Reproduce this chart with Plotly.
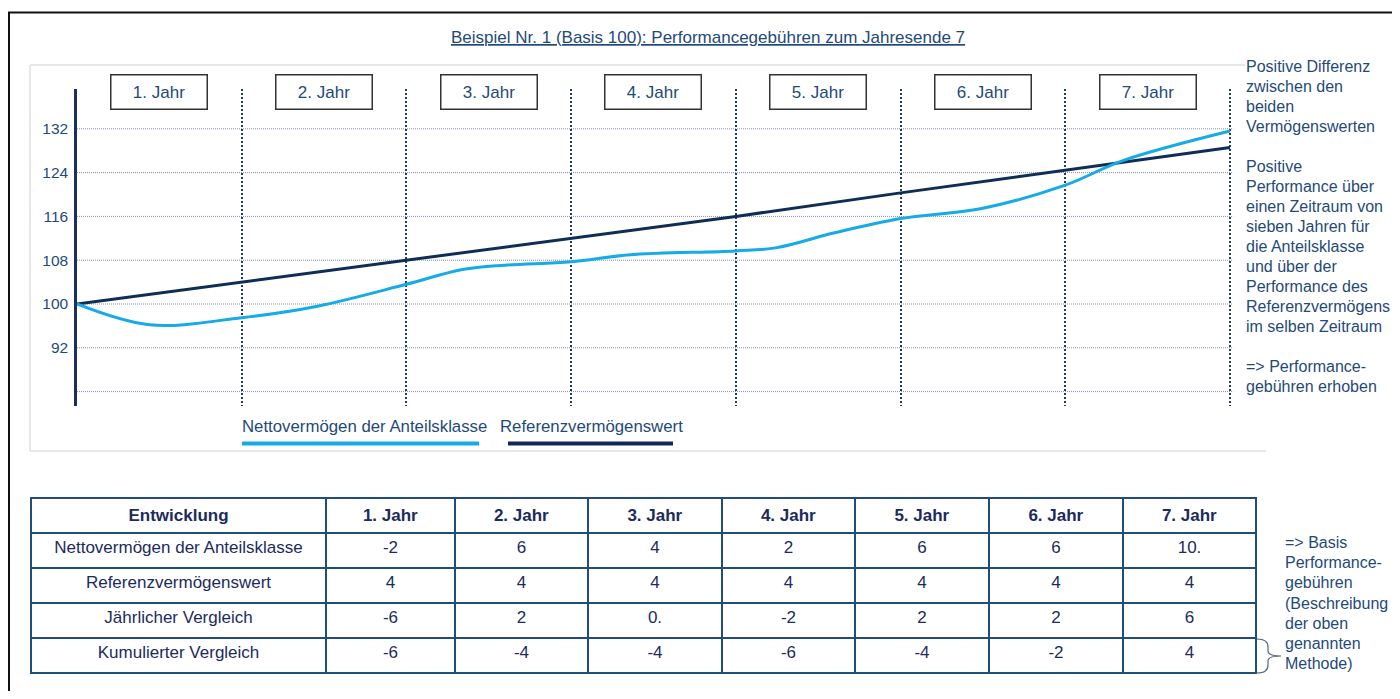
import plotly.graph_objects as go

# The page body has an 8px margin, so the figure starts at page pixel (8, 8)
OFF = 8
W, H = 1400 - OFF, 699 - 2 * OFF
FONT = "Liberation Sans, Arial, sans-serif"
TXT = "#1f4a78"
NAVY_TXT = "#1c2b5c"
FS = 17
FS_SIDE = 16.0

# ---------------- data ----------------
title = "Beispiel Nr. 1 (Basis 100): Performancegebühren zum Jahresende 7"
year_labels = ["1. Jahr", "2. Jahr", "3. Jahr", "4. Jahr", "5. Jahr", "6. Jahr", "7. Jahr"]
y_ticks = [92, 100, 108, 116, 124, 132]
grid_vals = [84, 92, 100, 108, 116, 124, 132]

ref_years = [0, 1, 2, 3, 4, 5, 6, 7]
ref_values = [100, 104, 108, 112, 116, 120.3, 124.4, 128.6]

net_years = [0, 0.44, 1.0, 1.46, 2.0, 2.34, 2.6, 3.0, 3.36, 4.0, 4.25, 4.6,
             5.0, 5.5, 6.0, 6.35, 7.0]
net_values = [100, 96.2, 97.5, 99.6, 103.6, 106.3, 107.1, 107.7, 109.0, 109.7,
              110.3, 113.0, 115.6, 117.5, 121.7, 126.2, 131.6]

series_names = ["Nettovermögen der Anteilsklasse", "Referenzvermögenswert"]

right_text_1 = ["Positive Differenz", "zwischen den", "beiden", "Vermögenswerten", "",
                "Positive", "Performance über", "einen Zeitraum von", "sieben Jahren für",
                "die Anteilsklasse", "und über der", "Performance des", "Referenzvermögens",
                "im selben Zeitraum", "", "=> Performance-", "gebühren erhoben"]
right_text_2 = ["=> Basis", "Performance-", "gebühren", "(Beschreibung", "der oben",
                "genannten", "Methode)"]

table_header = ["Entwicklung"] + year_labels
row_labels = ["Nettovermögen der Anteilsklasse", "Referenzvermögenswert",
              "Jährlicher Vergleich", "Kumulierter Vergleich"]
row_net = ["-2", "6", "4", "2", "6", "6", "10."]
row_ref = ["4", "4", "4", "4", "4", "4", "4"]
row_annual = ["-6", "2", "0.", "-2", "2", "2", "6"]
row_cum = ["-6", "-4", "-4", "-6", "-4", "-2", "4"]


def X(px):
    return (px - OFF) / W


def Y(py):
    return 1 - (py - OFF) / H


fig = go.Figure()

fig.add_trace(go.Scatter(x=ref_years, y=ref_values, mode="lines", name=series_names[1],
                         line=dict(color="#0f2d55", width=3), showlegend=False,
                         xaxis="x", yaxis="y"))
fig.add_trace(go.Scatter(x=net_years, y=net_values, mode="lines", name=series_names[0],
                         line=dict(color="#16aae6", width=3, shape="spline", smoothing=1.0),
                         showlegend=False, xaxis="x", yaxis="y"))

# table
cols = [row_labels] + [[row_net[i], row_ref[i], row_annual[i], row_cum[i]] for i in range(7)]
fig.add_trace(go.Table(
    domain=dict(x=[X(31), X(1256)], y=[0, Y(497.5)]),
    columnwidth=[295, 129, 133, 134, 133, 134, 134, 133],
    header=dict(values=["<b>%s</b>" % h for h in table_header], height=35,
                line=dict(color="#1f4e79", width=2), fill=dict(color="white"),
                font=dict(family=FONT, size=FS, color=NAVY_TXT), align="center"),
    cells=dict(values=cols, height=35,
               line=dict(color="#1f4e79", width=2), fill=dict(color="white"),
               font=dict(family=FONT, size=FS, color=NAVY_TXT), align="center"),
))

shapes = []
# horizontal grid lines
for v in grid_vals:
    shapes.append(dict(type="line", xref="x", yref="y", x0=0, x1=7.02, y0=v, y1=v,
                       line=dict(color="#8291ab", width=1, dash="1px,1px"), layer="below"))
# panel frame (light gray)
shapes.append(dict(type="line", xref="paper", yref="paper", x0=X(30), x1=X(30), y0=Y(65), y1=Y(451),
                   line=dict(color="#cfcfcf", width=1)))
shapes.append(dict(type="line", xref="paper", yref="paper", x0=X(30), x1=X(1245), y0=Y(65), y1=Y(65),
                   line=dict(color="#cfcfcf", width=1)))
shapes.append(dict(type="line", xref="paper", yref="paper", x0=X(30), x1=X(1266), y0=Y(451), y1=Y(451),
                   line=dict(color="#cfcfcf", width=1)))
# outer black frame
shapes.append(dict(type="line", xref="paper", yref="paper", x0=X(8), x1=X(1402), y0=Y(12.5), y1=Y(12.5),
                   line=dict(color="#111111", width=2)))
shapes.append(dict(type="line", xref="paper", yref="paper", x0=X(9), x1=X(9), y0=Y(12), y1=0,
                   line=dict(color="#111111", width=2)))
# legend lines
shapes.append(dict(type="line", xref="paper", yref="paper", x0=X(242), x1=X(479), y0=Y(443.5), y1=Y(443.5),
                   line=dict(color="#16aae6", width=4)))
shapes.append(dict(type="line", xref="paper", yref="paper", x0=X(508), x1=X(673), y0=Y(443.5), y1=Y(443.5),
                   line=dict(color="#13285a", width=4)))
# brace
pts = [(1257, 639), (1268, 639), (1268, 647), (1268, 651), (1268, 656), (1281, 656),
       (1268, 656), (1268, 661), (1268, 665), (1268, 673), (1257, 673)]
p = [(X(a), Y(b)) for a, b in pts]
path = ("M %f,%f Q %f,%f %f,%f L %f,%f Q %f,%f %f,%f Q %f,%f %f,%f L %f,%f Q %f,%f %f,%f" %
        (p[0] + p[1] + p[2] + p[3] + p[4] + p[5] + p[6] + p[7] + p[8] + p[9] + p[10]))
shapes.append(dict(type="path", xref="paper", yref="paper", path=path,
                   line=dict(color="#56657e", width=1.2)))

annotations = []
annotations.append(dict(x=X(707.5), y=Y(37.5), xref="paper", yref="paper", text="<u>%s</u>" % title,
                        xanchor="center", yanchor="middle", showarrow=False,
                        font=dict(family=FONT, size=FS, color=TXT)))
for i, lab in enumerate(year_labels):
    annotations.append(dict(x=i + 0.5, y=Y(92.5), xref="x", yref="paper", text=lab, showarrow=False,
                            xanchor="center", yanchor="middle",
                            width=95, height=33, bordercolor="#333333", borderwidth=1.5, borderpad=0,
                            bgcolor="white", font=dict(family=FONT, size=FS, color=TXT)))
annotations.append(dict(x=X(240), y=Y(426.5), xref="paper", yref="paper", text=series_names[0],
                        xanchor="left", yanchor="middle", showarrow=False,
                        font=dict(family=FONT, size=16.8, color=TXT)))
annotations.append(dict(x=X(497.5), y=Y(426.5), xref="paper", yref="paper", text=series_names[1],
                        xanchor="left", yanchor="middle", showarrow=False,
                        font=dict(family=FONT, size=16.8, color=TXT)))
for k, line in enumerate(right_text_1):
    if line:
        annotations.append(dict(x=X(1244), y=Y(66.7 + 20 * k), xref="paper", yref="paper", text=line,
                                xanchor="left", yanchor="middle", showarrow=False,
                                font=dict(family=FONT, size=FS_SIDE, color=TXT)))
for k, line in enumerate(right_text_2):
    annotations.append(dict(x=X(1283), y=Y(542.7 + 20.1 * k), xref="paper", yref="paper", text=line,
                            xanchor="left", yanchor="middle", showarrow=False,
                            font=dict(family=FONT, size=FS_SIDE, color=TXT)))

fig.update_layout(
    width=W, height=H, autosize=False,
    margin=dict(l=0, r=0, t=0, b=0),
    paper_bgcolor="white", plot_bgcolor="rgba(0,0,0,0)",
    showlegend=False,
    xaxis=dict(domain=[X(77), X(1250)], range=[0, (1250 - 77) / 164.71], showgrid=True,
               tick0=0, dtick=1, gridcolor="#22386a", griddash="2px,2px", gridwidth=2,
               showticklabels=False, zeroline=False, showline=False, ticks=""),
    yaxis=dict(domain=[Y(405.5), Y(89)], range=[81.46, 139.27], showgrid=False, zeroline=False,
               showline=True, linecolor="#1b2f5a", linewidth=2.5, tickvals=y_ticks,
               ticktext=[str(v) for v in y_ticks], ticks="", ticklabelstandoff=3,
               tickfont=dict(family=FONT, size=15.5, color=TXT)),
    shapes=shapes,
    annotations=annotations,
)

fig.write_html("out.html")
